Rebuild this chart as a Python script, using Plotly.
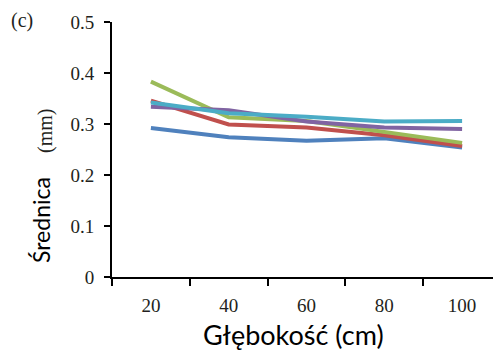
import plotly.graph_objects as go

depths = ["20", "40", "60", "80", "100"]
series_blue = [0.292, 0.274, 0.267, 0.272, 0.254]
series_red = [0.346, 0.299, 0.293, 0.278, 0.257]
series_green = [0.383, 0.313, 0.306, 0.285, 0.263]
series_purple = [0.334, 0.327, 0.305, 0.293, 0.290]
series_cyan = [0.342, 0.321, 0.314, 0.305, 0.306]
y_ticks = [0, 0.1, 0.2, 0.3, 0.4, 0.5]
y_tick_labels = ["0", "0.1", "0.2", "0.3", "0.4", "0.5"]

series = [
    (series_blue, "#4F81BD"),
    (series_red, "#C0504D"),
    (series_green, "#9BBB59"),
    (series_purple, "#8064A2"),
    (series_cyan, "#4BACC6"),
]

fig = go.Figure()
for vals, col in series:
    fig.add_trace(go.Scatter(x=depths, y=vals, mode="lines",
                             line=dict(color=col, width=4), showlegend=False))

OFF = 8  # page body margin
W, H = 501 - OFF, 356 - OFF
L, R, T, B = 112 - OFF, 0, 22 - OFF, 356 - 277
pw = W - L - R
ph = H - T - B

serif = "Liberation Serif"
tickcol = "#231f20"

fig.update_layout(
    width=W, height=H,
    margin=dict(l=L, r=R, t=T, b=B, pad=0),
    paper_bgcolor="white", plot_bgcolor="white",
    xaxis=dict(type="category", range=[-0.5, 4.5], tickson="boundaries",
               showgrid=False, zeroline=False, showline=True, linecolor="black", linewidth=2,
               ticks="outside", ticklen=7, tickwidth=2, tickcolor="black",
               tickfont=dict(family=serif, size=19, color=tickcol),
               ticklabelstandoff=10),
    yaxis=dict(range=[0, 0.5], tickvals=y_ticks, ticktext=y_tick_labels,
               showgrid=False, zeroline=False, showline=True, linecolor="black", linewidth=2,
               ticks="outside", ticklen=6, tickwidth=2, tickcolor="black",
               tickfont=dict(family=serif, size=19, color=tickcol),
               ticklabelstandoff=6),
)

def px_x(p):
    return (p - OFF - L) / pw

def px_y(p):
    return (H - B - (p - OFF)) / ph

fig.add_annotation(text="Głębokość (cm)", xref="paper", yref="paper",
                   x=px_x(293), y=px_y(334), xanchor="center", yanchor="middle",
                   showarrow=False, font=dict(family="Lato", size=27, color="black"))
fig.add_annotation(text="Średnica", xref="paper", yref="paper", textangle=-90,
                   x=px_x(41), y=px_y(220), xanchor="center", yanchor="middle",
                   showarrow=False, font=dict(family="Lato", size=23, color="black"))
fig.add_annotation(text="(mm)", xref="paper", yref="paper", textangle=-90,
                   x=px_x(45), y=px_y(131), xanchor="center", yanchor="middle",
                   showarrow=False, font=dict(family=serif, size=20, color=tickcol))
fig.add_annotation(text="(c)", xref="paper", yref="paper",
                   x=px_x(22), y=px_y(20), xanchor="center", yanchor="middle",
                   showarrow=False, font=dict(family=serif, size=20, color=tickcol))

fig.write_html("out.html")
